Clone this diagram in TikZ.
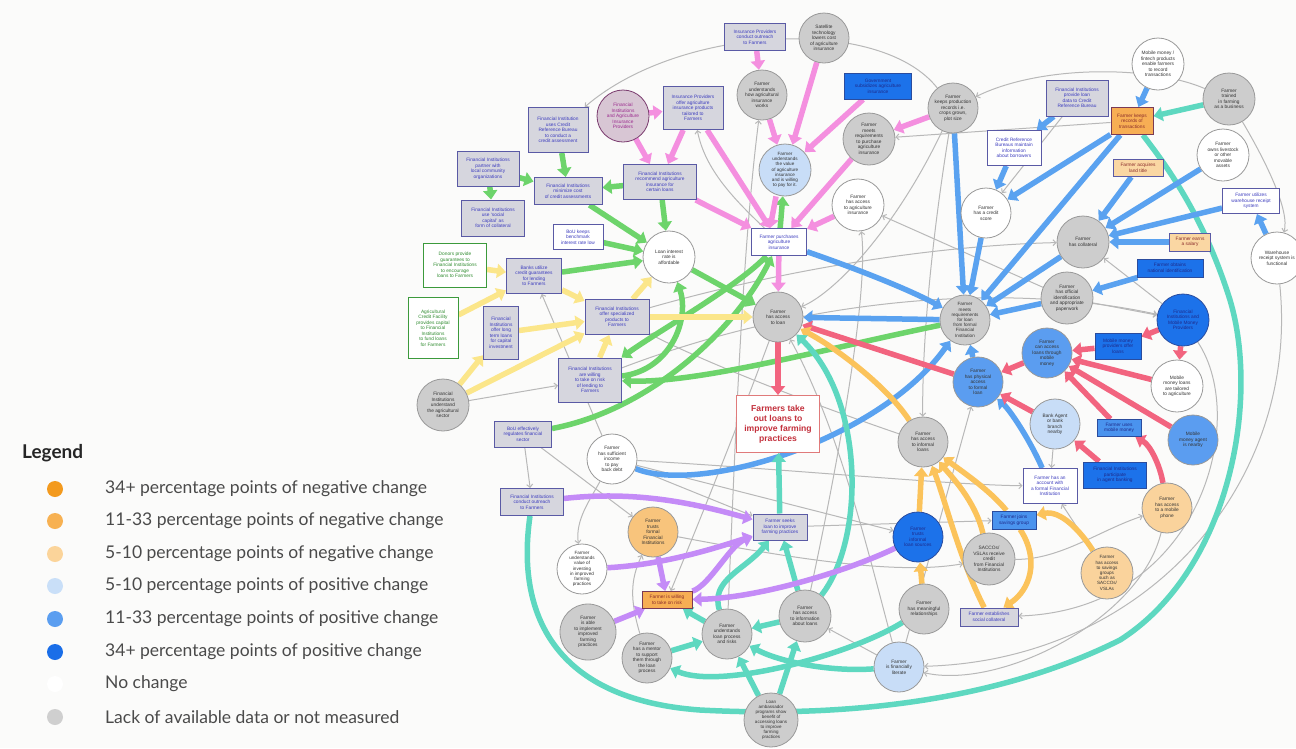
\documentclass[tikz,border=0pt]{standalone}
\usepackage{fontspec}
\setmainfont{Liberation Sans}
\newfontfamily\legfont{Lato}
\usetikzlibrary{arrows.meta}
\pgfdeclarelayer{back}
\pgfdeclarelayer{edges}
\pgfsetlayers{back,edges,main}
\definecolor{bgc}{HTML}{FBFBFA}
\definecolor{cgr}{HTML}{CDCDCD}
\definecolor{cbord}{HTML}{999999}
\definecolor{ctxt}{HTML}{333333}
\definecolor{clb}{HTML}{C8DDF7}
\definecolor{cmb}{HTML}{5B9DF0}
\definecolor{cdb}{HTML}{1C72EA}
\definecolor{cdbd}{HTML}{2A4C9E}
\definecolor{cdbt}{HTML}{1E2A8A}
\definecolor{clo}{HTML}{FAD39C}
\definecolor{cor}{HTML}{F8C47C}
\definecolor{cpk}{HTML}{D8C6D4}
\definecolor{cpkd}{HTML}{7A3B6E}
\definecolor{cpkt}{HTML}{9B2A8E}
\definecolor{cbx}{HTML}{5A5AA5}
\definecolor{cbxf}{HTML}{D6D6DE}
\definecolor{cbxt}{HTML}{3C3CBE}
\definecolor{cgrbd}{HTML}{3C9A3C}
\definecolor{cgrt}{HTML}{2E8B2E}
\definecolor{cmbx}{HTML}{4A93EE}
\definecolor{cob}{HTML}{F7AE54}
\definecolor{cobd}{HTML}{7A3A55}
\definecolor{cobt}{HTML}{8A2B2B}
\definecolor{clob}{HTML}{FAD7A3}
\definecolor{cmainbd}{HTML}{E07A7A}
\definecolor{cmaint}{HTML}{C3303C}
\definecolor{cgreen}{HTML}{6DD46B}
\definecolor{cpink}{HTML}{F48FDF}
\definecolor{cblue}{HTML}{5AA2F0}
\definecolor{cyel}{HTML}{FBE68A}
\definecolor{cred}{HTML}{F2647F}
\definecolor{cteal}{HTML}{5ED8C0}
\definecolor{corg}{HTML}{FBC35B}
\definecolor{cpur}{HTML}{C48BF7}
\definecolor{cgrl}{HTML}{B8B8B8}
\definecolor{clegt}{HTML}{4A4A4A}
\definecolor{l1}{HTML}{F39A1E}
\definecolor{l2}{HTML}{F7B152}
\definecolor{l3}{HTML}{FBD49A}
\definecolor{l4}{HTML}{C9DFF8}
\definecolor{l5}{HTML}{5B9EF0}
\definecolor{l6}{HTML}{1A6EE8}
\definecolor{l8}{HTML}{CFCFCF}
\begin{document}
\begin{tikzpicture}[x=1pt,y=-1pt,
  nd/.style={font=\fontsize{4.8}{5.5}\selectfont, align=center, inner sep=0pt},
  cn/.style={nd, circle, draw=cbord, line width=0.8pt, text=ctxt},
  dia/.style={minimum size=#1pt},
  cgy/.style={cn, fill=cgr},
  cwh/.style={cn, fill=white},
  clbs/.style={cn, fill=clb},
  cmbs/.style={cn, fill=cmb},
  cdbs/.style={cn, fill=cdb, draw=cdbd, text=cdbt},
  clos/.style={cn, fill=clo},
  cors/.style={cn, fill=cor},
  sz/.style 2 args={minimum width=#1pt, minimum height=#2pt},
  bx/.style={nd, rectangle, draw=cbx, line width=1pt, fill=cbxf, text=cbxt, inner sep=1pt},
  wbx/.style={bx, fill=white},
  grbx/.style={bx, fill=white, draw=cgrbd, text=cgrt},
  dbx/.style={bx, fill=cdb, draw=cdbd, text=cdbt},
  mbx/.style={bx, fill=cmbx, draw=cdbd, text=cdbt},
  obx/.style={bx, fill=cob, draw=cobd, text=cobt},
  lobx/.style={bx, fill=clob, draw=cbx, text=cobt},
  thk/.style={line width=5.5pt, -{Triangle[width=14pt,length=9pt]}},
  gA/.style={thk, draw=cgreen},
  pA/.style={thk, draw=cpink},
  bA/.style={thk, draw=cblue},
  yA/.style={thk, draw=cyel},
  rA/.style={thk, draw=cred},
  tA/.style={thk, draw=cteal},
  oA/.style={thk, draw=corg},
  uA/.style={thk, draw=cpur},
  gry/.style={draw=cgrl, line width=1pt, -{Straight Barb[length=3pt,width=6pt]}},
  legtxt/.style={anchor=west, font=\legfont\fontsize{17.5}{20}\selectfont, text=clegt, inner sep=0pt}
]
\begin{pgfonlayer}{back}
\fill[bgc] (0,0) rectangle (1296,748);
\end{pgfonlayer}
\useasboundingbox (0,0) rectangle (1296,748);

% ---------- circles ----------
\node[cn, fill=cpk, draw=cpkd, text=cpkt, dia=52] (fiaip) at (623,116) {Financial\\Institutions\\and Agriculture\\Insurance\\Providers};
\node[cgy, dia=50] (sat) at (824,38) {Satellite\\technology\\lowers cost\\of agriculture\\insurance};
\node[cgy, dia=50] (uhow) at (762,95) {Farmer\\understands\\how agricultural\\insurance\\works};
\node[cgy, dia=50] (prod) at (953,108) {Farmer\\keeps production\\records i.e.\\crops grown,\\plot size};
\node[cgy, dia=52] (mreqins) at (869,139) {Farmer\\meets\\requirements\\to purchase\\agriculture\\insurance};
\node[clbs, dia=52, font=\fontsize{4.6}{5.2}\selectfont] (uval) at (785,170) {Farmer\\understands\\the value\\of agriculture\\insurance\\and is willing\\to pay for it.};
\node[cwh, dia=52] (accins) at (858,205) {Farmer\\has access\\to agriculture\\insurance};
\node[cwh, dia=50] (cscore) at (986,213) {Farmer\\has a credit\\score};
\node[cwh, dia=52] (mmfin) at (1158,64) {Mobile money /\\fintech products\\enable farmers\\to record\\transactions};
\node[cgy, dia=52] (trained) at (1229,99) {Farmer\\trained\\in farming\\as a business};
\node[cwh, dia=52] (livestock) at (1223,155) {Farmer\\owns livestock\\or other\\movable\\assets};
\node[cgy, dia=52] (coll) at (1083,242) {Farmer\\has collateral};
\node[cwh, dia=52] (whfunc) at (1277,258) {Warehouse\\receipt system is\\functional};
\node[cgy, dia=52] (offid) at (1067,298) {Farmer\\has official\\identification\\and appropriate\\paperwork};
\node[cdbs, dia=52] (fimm) at (1183,320) {Financial\\Institutions and\\Mobile Money\\Providers};
\node[cmbs, dia=50] (mmacc) at (1047,353) {Farmer\\can access\\loans through\\mobile\\money};
\node[cwh, dia=52] (mmtail) at (1177,386) {Mobile\\money loans\\are tailored\\to agriculture};
\node[cmbs, dia=50] (phys) at (978,382) {Farmer\\has physical\\access\\to formal\\loan};
\node[clbs, dia=50] (agent) at (1055,424) {Bank Agent\\or bank\\branch\\nearby};
\node[cmbs, dia=50] (mmagent) at (1193,440) {Mobile\\money agent\\is nearby};
\node[cgy, dia=50, font=\fontsize{4.6}{5.2}\selectfont] (mreq) at (965,320) {Farmer\\meets\\requirements\\for loan\\from formal\\Financial\\Institution};
\node[cgy, dia=50] (acc) at (778,317) {Farmer\\has access\\to loan};
\node[cgy, dia=50] (linf) at (923,442) {Farmer\\has access\\to informal\\loans};
\node[clos, dia=50] (phone) at (1167,508) {Farmer\\has access\\to a mobile\\phone};
\node[clos, dia=52, font=\fontsize{4.6}{5.2}\selectfont] (savg) at (1107,573) {Farmer\\has access\\to savings\\groups\\such as\\SACCOs/\\VSLAs};
\node[cdbs, dia=50] (trustinf) at (918,537) {Farmer\\trusts\\informal\\loan sources};
\node[cgy, dia=52] (sacco) at (989,559) {SACCOs/\\VSLAs receive\\credit\\from Financial\\Institutions};
\node[cgy, dia=50] (rel) at (924,609) {Farmer\\has meaningful\\relationships};
\node[clbs, dia=50] (lit) at (899,667) {Farmer\\is financially\\literate};
\node[cgy, dia=52] (info) at (805,616) {Farmer\\has access\\to information\\about loans};
\node[cgy, dia=50] (uproc) at (727,634) {Farmer\\understands\\loan process\\and risks};
\node[cgy, dia=54, font=\fontsize{4.5}{5.1}\selectfont] (amb) at (771,720) {Loan\\ambassador\\programs show\\benefit of\\accessing loans\\to improve\\farming\\practices};
\node[cors, dia=50] (trustf) at (653,532) {Farmer\\trusts\\formal\\Financial\\Institutions};
\node[cwh, dia=50, font=\fontsize{4.6}{5.2}\selectfont] (uinv) at (582,569) {Farmer\\understands\\value of\\investing\\in improved\\farming\\practices};
\node[cgy, dia=56] (able) at (588,632) {Farmer\\is able\\to implement\\improved\\farming\\practices};
\node[cgy, dia=50] (mentor) at (647,658) {Farmer\\has a mentor\\to support\\them through\\the loan\\process};
\node[cwh, dia=50] (income) at (612,459) {Farmer\\has sufficient\\income\\to pay\\back debt};
\node[cwh, dia=52] (rate) at (669,257) {Loan interest\\rate is\\affordable};
\node[cgy, dia=52] (fiag) at (443,405) {Financial\\Institutions\\understand\\the agricultural\\sector};

% ---------- boxes ----------
\node[bx, sz={60}{45}] (crbuse) at (558,130) {Financial Institution\\uses Credit\\Reference Bureau\\to conduct a\\credit assessment};
\node[bx, sz={60}{43}] (insoffer) at (693,108) {Insurance Providers\\offer agriculture\\insurance products\\tailored to\\Farmers};
\node[bx, sz={62}{35}] (partner) at (488,169) {Financial Institutions\\partner with\\local community\\organizations};
\node[bx, sz={68}{27}] (minimize) at (568,191) {Financial Institutions\\minimize cost\\of credit assessments};
\node[bx, sz={73}{35}] (recommend) at (660,182) {Financial Institutions\\recommend agriculture\\insurance for\\certain loans};
\node[bx, sz={63}{36}] (social) at (493,218) {Financial Institutions\\use `social\\capital' as\\form of collateral};
\node[wbx, sz={50}{25}] (bouk) at (578,237) {BoU keeps\\benchmark\\interest rate low};
\node[grbx, sz={63}{44}] (donors) at (455,265) {Donors provide\\guarantees to\\Financial Institutions\\to encourage\\loans to Farmers};
\node[bx, sz={55}{35}] (banks) at (534,276) {Banks utilize\\credit guarantees\\for lending\\to Farmers};
\node[grbx, sz={50}{61}] (acf) at (433,328) {Agricultural\\Credit Facility\\provides capital\\to Financial\\Institutions\\to fund loans\\for Farmers};
\node[bx, sz={35}{53}] (longterm) at (501,333) {Financial\\Institutions\\offer long\\term loans\\for capital\\investment};
\node[bx, sz={64}{35}] (special) at (617,317) {Financial Institutions\\offer specialized\\products to\\Farmers};
\node[bx, sz={63}{44}] (willing) at (590,380) {Financial Institutions\\are willing\\to take on risk\\of lending to\\Farmers};
\node[bx, sz={57}{26}] (boureg) at (523,434) {BoU effectively\\regulates financial\\sector};
\node[bx, sz={61}{27}] (insout) at (755,37) {Insurance Providers\\conduct outreach\\to Farmers};
\node[dbx, sz={67}{26}] (gov) at (878,86) {Government\\subsidizes agriculture\\insurance};
\node[wbx, sz={54}{35}] (crbmaint) at (1014,148) {Credit Reference\\Bureaus maintain\\information\\about borrowers};
\node[wbx, sz={55}{27}] (purchase) at (779,242) {Farmer purchases\\agriculture\\insurance};
\node[bx, sz={62}{36}] (fidata) at (1077,98) {Financial Institutions\\provide loan\\data to Credit\\Reference Bureau};
\node[obx, sz={42}{27}] (recs) at (1132,121) {Farmer keeps\\records of\\transactions};
\node[lobx, sz={50}{17}] (land) at (1138,168) {Farmer acquires\\land title};
\node[wbx, sz={57}{25}] (whuse) at (1251,201) {Farmer utilizes\\warehouse receipt\\system};
\node[lobx, sz={41}{18}] (salary) at (1190,242) {Farmer earns\\a salary};
\node[dbx, sz={66}{18}] (natid) at (1170,268) {Farmer obtains\\national identification};
\node[dbx, sz={46}{26}] (mmoffer) at (1118,346) {Mobile money\\providers offer\\loans};
\node[mbx, sz={44}{17}] (usemm) at (1119,428) {Farmer uses\\mobile money};
\node[dbx, sz={63}{26}] (agentbk) at (1115,475) {Financial Institutions\\participate\\in agent banking};
\node[wbx, sz={54}{35}] (account) at (1050,486) {Farmer has an\\account with\\a formal Financial\\Institution};
\node[mbx, sz={44}{18}] (joins) at (1014,520) {Farmer joins\\savings group};
\node[bx, sz={58}{18}] (estab) at (989,617) {Farmer establishes\\social collateral};
\node[bx, sz={54}{26}] (seeks) at (780,527) {Farmer seeks\\loan to improve\\farming practices};
\node[bx, sz={63}{27}] (fiout) at (532,502) {Financial Institutions\\conduct outreach\\to Farmers};
\node[obx, sz={50}{17}] (willrisk) at (667,600) {Farmer is willing\\to take on risk};
\node[draw=cmainbd, line width=1pt, fill=white, text=cmaint, font=\bfseries\fontsize{8.6}{10}\selectfont, align=center, minimum width=83pt, minimum height=57pt, inner sep=1pt] (main) at (778,424) {Farmers take\\out loans to\\improve farming\\practices};

% ---------- connectors ----------
\begin{pgfonlayer}{edges}
% grey
\draw[gry] (prod) .. controls (880,15) and (680,25) .. (crbuse);
\draw[gry] (trained) .. controls (1150,65) and (1040,65) .. (prod);
\draw[gry] (recs) -- (mreqins);
\draw[gry] (fidata) -- (cscore);
\draw[gry] (prod) .. controls (930,250) and (922,350) .. (linf);
\draw[gry] (prod) .. controls (900,220) and (840,290) .. (acc);
\draw[gry] (offid) -- (accins);
\draw[gry] (info) .. controls (830,500) and (870,300) .. (accins);
\draw[gry] (purchase) .. controls (735,200) and (705,170) .. (insoffer);
\draw[gry] (uproc) .. controls (735,450) and (742,250) .. (uhow);
\draw[gry] (special) .. controls (800,265) and (950,245) .. (coll);
\draw[gry] (willing) .. controls (800,300) and (1000,280) .. (fimm);
\draw[gry] (offid) -- (fimm);
\draw[gry] (fimm) -- (coll);
\draw[gry] (fimm) .. controls (1250,420) and (1200,610) .. (estab);
\draw[gry] (whfunc) .. controls (1300,480) and (1150,660) .. (lit);
\draw[gry] (trained) .. controls (1265,160) and (1290,210) .. (whfunc);
\draw[gry] (agent) -- (account);
\draw[gry] (savg) -- (account);
\draw[gry] (sacco) .. controls (1060,560) and (1100,530) .. (phone);
\draw[gry] (phone) .. controls (1140,620) and (1000,690) .. (lit);
\draw[gry] (lit) -- (info);
\draw[gry] (seeks) -- (joins);
\draw[gry] (income) .. controls (800,470) and (950,485) .. (account);
\draw[gry] (income) -- (trustinf);
\draw[gry] (lit) .. controls (870,560) and (840,430) .. (acc);
\draw[gry] (trustf) .. controls (800,560) and (900,575) .. (sacco);
\draw[gry] (mentor) .. controls (630,600) and (630,580) .. (trustf);
\draw[gry] (income) .. controls (590,500) and (575,520) .. (uinv);
\draw[gry] (boureg) -- (trustf);
\draw[gry] (boureg) -- (fiout);
\draw[gry] (fiag) -- (willing);
\draw[gry] (income) -- (banks);
\draw[gry] (linf) .. controls (800,400) and (700,360) .. (special);
\draw[gry] (lit) -- (phys);
\draw[gry] (acc) .. controls (740,420) and (700,520) .. (willrisk);
\draw[gry] (income) -- (seeks);
% teal big arc
\draw[cteal, line width=5.5pt] (fiout) .. controls (515,620) and (560,700) .. (700,710) .. controls (850,718) and (1000,700) .. (1120,640) .. controls (1230,570) and (1260,400) .. (1230,300) .. controls (1205,220) and (1170,170) .. (recs);
% green
\draw[gA] (crbuse) -- (minimize);
\draw[gA] (partner) -- (minimize);
\draw[gA] (partner) -- (social);
\draw[gA] (recommend) -- (minimize);
\draw[gA] (recommend) -- (rate);
\draw[gA] (minimize) -- (rate);
\draw[gA] (bouk) -- (rate);
\draw[gA] (banks) -- (rate);
\draw[gA] (rate) -- (acc);
\draw[gA] (mreq) .. controls (820,350) and (700,383) .. (willing);
\draw[gA] (willing) .. controls (670,370) and (690,320) .. (rate);
\draw[gA] (purchase) .. controls (740,285) and (660,330) .. (willing);
\draw[gA] (boureg) .. controls (650,410) and (735,330) .. (purchase);
\draw[gA] (purchase) -- (uval);
% yellow
\draw[yA] (donors) -- (banks);
\draw[yA] (acf) -- (banks);
\draw[yA] (banks) -- (special);
\draw[yA] (longterm) -- (special);
\draw[yA] (fiag) -- (longterm);
\draw[yA] (fiag) -- (special);
\draw[yA] (willing) -- (special);
\draw[yA] (special) -- (rate);
\draw[yA] (special) -- (acc);
% pink
\draw[pA] (fiaip) -- (insoffer);
\draw[pA] (fiaip) -- (recommend);
\draw[pA] (insoffer) -- (recommend);
\draw[pA] (insoffer) -- (purchase);
\draw[pA] (recommend) -- (purchase);
\draw[pA] (insout) -- (uhow);
\draw[pA] (uhow) -- (uval);
\draw[pA] (sat) -- (uval);
\draw[pA] (gov) -- (uval);
\draw[pA] (prod) -- (mreqins);
\draw[pA] (mreqins) -- (purchase);
\draw[pA] (accins) -- (purchase);
\draw[pA] ([xshift=-9pt]uval.south) -- ([xshift=-9pt]purchase.north);
\draw[pA] (purchase) -- (acc);
% blue
\draw[bA] (purchase) .. controls (860,270) and (910,290) .. (mreq);
\draw[bA] (mreq) -- (acc);
\draw[bA] (prod) -- (mreq);
\draw[bA] (cscore) -- (mreq);
\draw[bA] (crbmaint) -- (cscore);
\draw[bA] (fidata) -- (crbmaint);
\draw[bA] (recs) -- (cscore);
\draw[bA] (recs) -- (mreq);
\draw[bA] (mmfin) -- (recs);
\draw[bA] (land) -- (coll);
\draw[bA] (livestock) -- (coll);
\draw[bA] (whuse) -- (coll);
\draw[bA] (whfunc) -- (whuse);
\draw[bA] (salary) -- (coll);
\draw[bA] (coll) -- (mreq);
\draw[bA] (natid) -- (offid);
\draw[bA] (offid) -- (mreq);
\draw[bA] (phys) -- (mreq);
\draw[bA] (account) .. controls (1030,440) and (1010,410) .. (phys);
\draw[bA] (income) .. controls (700,495) and (880,440) .. (mreq);
% red
\draw[rA] (fimm) -- (mmoffer);
\draw[rA] (fimm) -- (mmtail);
\draw[rA] (mmoffer) -- (mmacc);
\draw[rA] (mmtail) -- (mmacc);
\draw[rA] (mmagent) -- (mmacc);
\draw[rA] (usemm) -- (mmacc);
\draw[rA] (mmacc) -- (phys);
\draw[rA] (agent) -- (phys);
\draw[rA] (agentbk) -- (agent);
\draw[rA] (phone) .. controls (1160,465) and (1150,445) .. (usemm);
\draw[rA] (phys) -- (acc);
\draw[rA] (acc) -- (main);
% orange
\draw[oA] (linf) .. controls (890,390) and (840,350) .. (acc);
\draw[oA] (trustinf) -- (linf);
\draw[oA] (sacco) .. controls (975,500) and (950,475) .. (linf);
\draw[oA] (rel) -- (trustinf);
\draw[oA] (savg) .. controls (1080,530) and (1060,510) .. (joins);
\draw[oA] (joins) .. controls (1040,560) and (1030,590) .. (estab);
\draw[oA] (estab) .. controls (960,560) and (945,500) .. (linf);
\draw[oA] (joins) .. controls (990,490) and (960,470) .. (linf);
% teal
\draw[tA] (trained) -- (recs);
\draw[tA] (info) -- (uproc);
\draw[tA] (amb) -- (uproc);
\draw[tA] (amb) -- (info);
\draw[tA] (mentor) -- (uproc);
\draw[tA] (lit) .. controls (830,672) and (780,662) .. (uproc);
\draw[tA] (rel) .. controls (850,655) and (720,690) .. (mentor);
\draw[tA] (info) -- (seeks);
\draw[tA] (seeks) -- (main);
\draw[tA] (info) .. controls (865,540) and (865,400) .. (acc);
\draw[tA] (uproc) -- (willrisk);
\draw[tA] (uproc) .. controls (710,580) and (745,570) .. (seeks);
% purple
\draw[uA] (fiout) .. controls (640,490) and (700,505) .. (seeks);
\draw[uA] (uinv) .. controls (660,565) and (710,550) .. (seeks);
\draw[uA] (trustf) -- (willrisk);
\draw[uA] (trustinf) .. controls (850,570) and (760,598) .. (willrisk);
\draw[uA] (able) -- (willrisk);
\draw[uA] (willrisk) .. controls (710,585) and (730,545) .. (seeks);
\end{pgfonlayer}

% ---------- legend ----------
\node[anchor=west, font=\legfont\bfseries\fontsize{19}{22}\selectfont, text=black!85, inner sep=0pt] (legtitle) at (22,453) {Legend};
\fill[l1] (55,489) circle (8pt);
\fill[l2] (55,521) circle (8pt);
\fill[l3] (55,554) circle (8pt);
\fill[l4] (55,586) circle (8pt);
\fill[l5] (55,619) circle (8pt);
\fill[l6] (55,652) circle (8pt);
\fill[white] (55,684) circle (8pt);
\fill[l8] (55,717) circle (8pt);
\node[legtxt] (lg1) at (105,489) {34+ percentage points of negative change};
\node[legtxt] (lg2) at (105,521) {11-33 percentage points of negative change};
\node[legtxt] (lg3) at (105,554) {5-10 percentage points of negative change};
\node[legtxt] (lg4) at (105,586) {5-10 percentage points of positive change};
\node[legtxt] (lg5) at (105,619) {11-33 percentage points of positive change};
\node[legtxt] (lg6) at (105,652) {34+ percentage points of positive change};
\node[legtxt] (lg7) at (105,684) {No change};
\node[legtxt] (lg8) at (105,717) {Lack of available data or not measured};
\end{tikzpicture}
\end{document}
